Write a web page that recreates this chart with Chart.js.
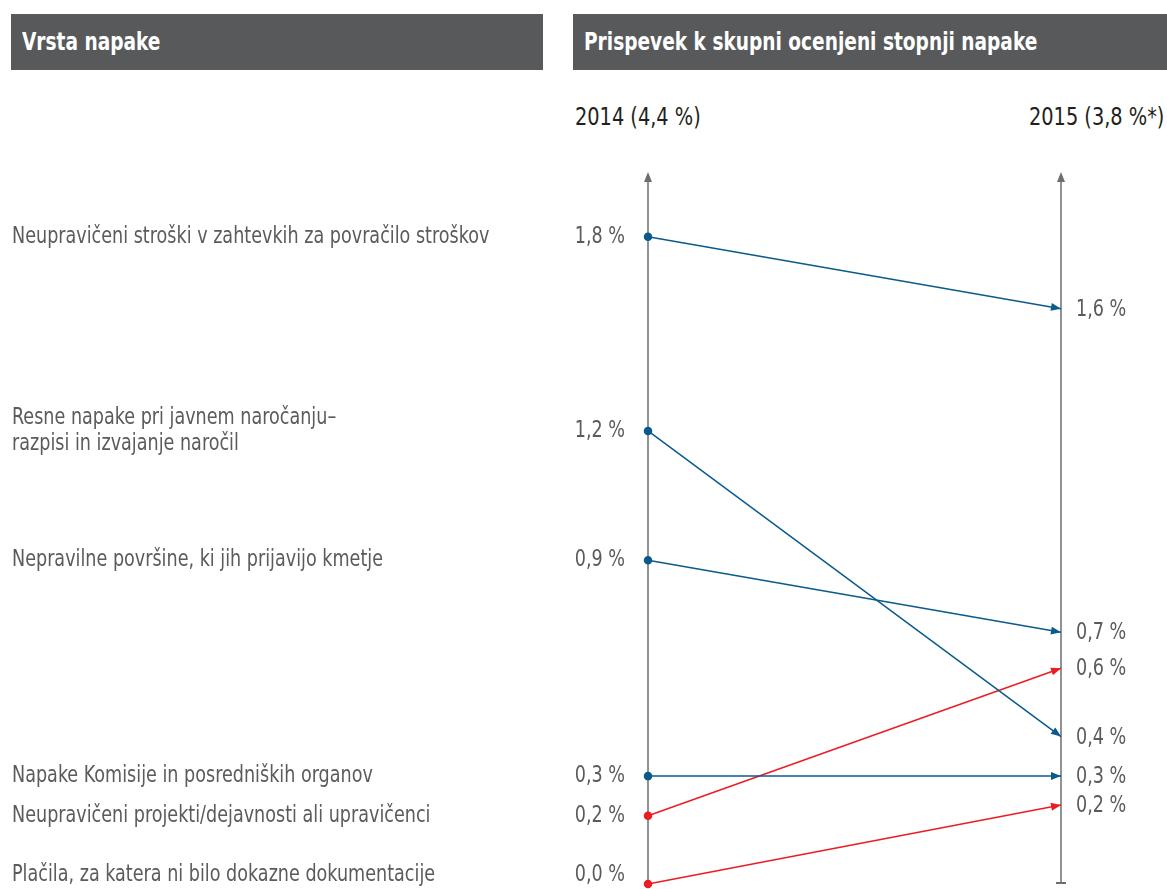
<!DOCTYPE html>
<html>
<head>
<meta charset="utf-8">
<script src="https://cdn.jsdelivr.net/npm/chart.js@4/dist/chart.umd.min.js"></script>
<style>
  body { margin: 0; background: #fff; font-family: "DejaVu Sans Condensed", "DejaVu Sans", sans-serif; font-stretch: condensed; }
  #wrap { position: relative; width: 1167px; height: 889px; overflow: hidden; }
  .bar { position: absolute; top: 14px; height: 56px; background: #58595b; }
  .bar span { position: absolute; left: 11px; top: 0; line-height: 56px; color: #fff; font-weight: bold; font-size: 24px; transform: scaleX(0.86); transform-origin: left center; white-space: nowrap; }
  .year { position: absolute; top: 102px; font-size: 25px; color: #231f20; transform: scaleX(0.86); transform-origin: left center; white-space: nowrap; }
  canvas { position: absolute; left: 0; top: 0; }
</style>
</head>
<body>
<div id="wrap">
  <div class="bar" style="left:11px;width:532px;"><span>Vrsta napake</span></div>
  <div class="bar" style="left:573px;width:594px;"><span>Prispevek k skupni ocenjeni stopnji napake</span></div>
  <div class="year" style="left:575px;">2014 (4,4 %)</div>
  <div class="year" style="left:1029px;">2015 (3,8 %*)</div>
  <canvas id="slope-chart" width="1167" height="889"></canvas>
</div>
<script>
var categories = [
    ["Neupravičeni stroški v zahtevkih za povračilo stroškov"],
    ["Resne napake pri javnem naročanju–", "razpisi in izvajanje naročil"],
    ["Nepravilne površine, ki jih prijavijo kmetje"],
    ["Napake Komisije in posredniških organov"],
    ["Neupravičeni projekti/dejavnosti ali upravičenci"],
    ["Plačila, za katera ni bilo dokazne dokumentacije"]
];
var values2014 = [1.8, 1.26, 0.9, 0.3, 0.19, 0.0];
var values2015 = [1.6, 0.41, 0.7, 0.3, 0.6, 0.22];
var labels2014 = ["1,8 %", "1,2 %", "0,9 %", "0,3 %", "0,2 %", "0,0 %"];
var labels2015 = ["1,6 %", "0,4 %", "0,7 %", "0,3 %", "0,6 %", "0,2 %"];
var seriesColors = ["#0b5a8c", "#0b5a8c", "#0b5a8c", "#0b5a8c", "#ec1c24", "#ec1c24"];

var FONT = '"DejaVu Sans Condensed", "DejaVu Sans", sans-serif';
var AXIS = "#6d6e71";
var SX = 0.85; // squeeze text to look like a condensed face

var datasets = categories.map(function(c, i) {
    return {
        label: c.join(" "),
        data: [{x: 0, y: values2014[i]}, {x: 1, y: values2015[i]}],
        borderColor: seriesColors[i],
        backgroundColor: seriesColors[i],
        borderWidth: 1.5,
        pointRadius: [3.5, 0],
        pointHoverRadius: [3.5, 0],
        tension: 0,
        clip: false
    };
});

function squeezedText(ctx, t, x, y, align) {
    ctx.save();
    ctx.translate(x, y);
    ctx.scale(SX, 1);
    ctx.textAlign = align;
    ctx.fillText(t, 0, 0);
    ctx.restore();
}

// axes, arrows and text drawn through the chart's scales
var slopeDecor = {
    id: 'slopeDecor',
    beforeDatasetsDraw: function(chart) {
        var ctx = chart.ctx, xs = chart.scales.x;
        var top = chart.chartArea.top, bottom = chart.chartArea.bottom;
        ctx.save();
        ctx.strokeStyle = AXIS;
        ctx.fillStyle = AXIS;
        ctx.lineWidth = 1.5;
        [0, 1].forEach(function(v) {
            var x = xs.getPixelForValue(v);
            ctx.beginPath();
            ctx.moveTo(x, top + 8);
            ctx.lineTo(x, bottom);
            ctx.stroke();
            ctx.beginPath();
            ctx.moveTo(x, top);
            ctx.lineTo(x - 4, top + 10);
            ctx.lineTo(x + 4, top + 10);
            ctx.closePath();
            ctx.fill();
        });
        var xr = xs.getPixelForValue(1);
        ctx.lineWidth = 2;
        ctx.beginPath();
        ctx.moveTo(xr - 5, bottom - 1);
        ctx.lineTo(xr + 5, bottom - 1);
        ctx.stroke();
        ctx.restore();
    },
    afterDatasetsDraw: function(chart) {
        var ctx = chart.ctx, xs = chart.scales.x;
        var xl = xs.getPixelForValue(0), xr = xs.getPixelForValue(1);
        ctx.save();
        chart.data.datasets.forEach(function(ds, i) {
            var meta = chart.getDatasetMeta(i);
            var p0 = meta.data[0], p1 = meta.data[1];
            // arrow head at the 2015 end
            var ang = Math.atan2(p1.y - p0.y, p1.x - p0.x);
            ctx.fillStyle = seriesColors[i];
            ctx.beginPath();
            ctx.moveTo(p1.x, p1.y);
            ctx.lineTo(p1.x - 10 * Math.cos(ang) + 4 * Math.sin(ang), p1.y - 10 * Math.sin(ang) - 4 * Math.cos(ang));
            ctx.lineTo(p1.x - 10 * Math.cos(ang) - 4 * Math.sin(ang), p1.y - 10 * Math.sin(ang) + 4 * Math.cos(ang));
            ctx.closePath();
            ctx.fill();

            ctx.font = '23px ' + FONT;
            ctx.fillStyle = "#5b5b5d";
            ctx.textBaseline = 'middle';
            var ly = Math.min(p0.y, chart.height - 14);
            squeezedText(ctx, labels2014[i], xl - 23, ly, 'right');
            squeezedText(ctx, labels2015[i], xr + 15, p1.y + 1, 'left');

            var lines = categories[i];
            var lh = 26;
            var y0 = ly - (lines.length - 1) * lh / 2;
            lines.forEach(function(t, k) {
                squeezedText(ctx, t, 12, y0 + k * lh, 'left');
            });
        });
        ctx.restore();
    }
};

window.onload = function() {
    var slope_ctx = document.getElementById("slope-chart").getContext('2d');
    window.slopeChart = new Chart(slope_ctx, {
        type: 'line',
        data: { datasets: datasets },
        options: {
            responsive: false,
            animation: false,
            layout: { padding: { left: 648, right: 106, top: 172, bottom: 5 } },
            plugins: { legend: { display: false }, tooltip: { enabled: false } },
            scales: {
                x: { type: 'linear', min: 0, max: 1, display: false },
                y: { type: 'linear', min: 0, max: 1.98, display: false }
            }
        },
        plugins: [slopeDecor]
    });
};
</script>
</body>
</html>
